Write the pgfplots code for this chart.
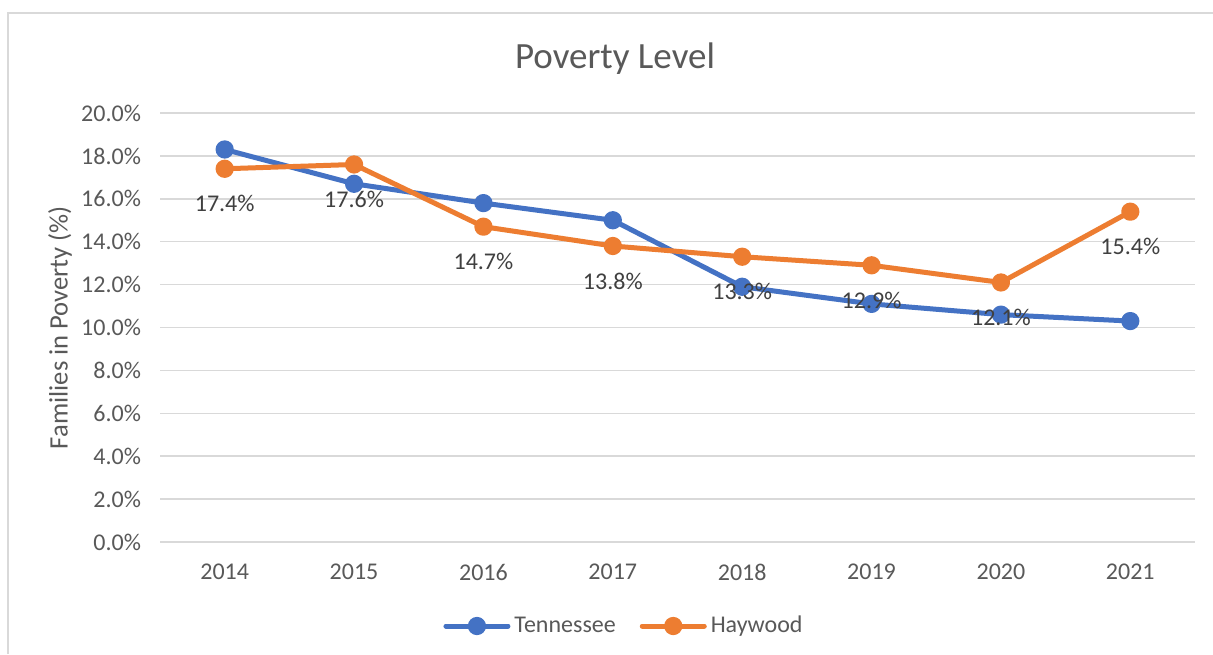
\documentclass[border=0pt]{standalone}
\usepackage{fontspec}
\setmainfont{Carlito}
\usepackage{pgfplots}
\pgfplotsset{compat=1.18}
\definecolor{tnblue}{HTML}{4472C4}
\definecolor{hworange}{HTML}{ED7D31}
\definecolor{txt}{HTML}{595959}
\definecolor{lbl}{HTML}{404040}
\definecolor{gridgray}{HTML}{D9D9D9}

\begin{document}
\begin{tikzpicture}[x=1pt,y=1pt]
\useasboundingbox (0,0) rectangle (606.5,327);
\fill[white] (0,0) rectangle (606.5,327);
\draw[gridgray, line width=0.75pt] (4,0) -- (4,320.5) -- (606.5,320.5);
\begin{axis}[
  at={(80pt,56pt)}, anchor=south west,
  scale only axis, width=517.5pt, height=214.5pt,
  xmin=-0.5, xmax=7.5, ymin=0, ymax=20,
  xtick={0,...,7},
  xticklabels={2014,2015,2016,2017,2018,2019,2020,2021},
  ytick={0,2,...,20},
  axis line style={draw=none},
  major tick length=0pt,
  xtick style={draw=none}, ytick style={draw=none},
  xmajorgrids=false, ymajorgrids=true,
  y grid style={gridgray, line width=0.75pt},
  /pgf/number format/assume math mode=true,
  tick label style={font=\fontsize{12}{14}\selectfont, text=txt},
  yticklabel={\pgfmathprintnumber[fixed,fixed zerofill,precision=1]{\tick}\%},
  yticklabel style={xshift=-6pt},
  xticklabel style={yshift=-7.5pt},
  title={Poverty Level},
  title style={at={(axis description cs:0.4396,1.098)}, anchor=center,
    font=\fontsize{18.5}{22}\selectfont, text=txt},
  ylabel={Families in Poverty (\%)},
  ylabel style={at={(axis description cs:-0.0966,0.5)}, anchor=center,
    font=\fontsize{13.3}{16}\selectfont, text=txt},
  clip=false,
  legend columns=2,
  legend style={at={(axis description cs:0.4493,-0.1958)}, anchor=center,
    draw=none, fill=none, font=\fontsize{12}{14}\selectfont, text=txt,
    /tikz/every even column/.append style={column sep=10pt}},
  legend image code/.code={
    \draw[mark repeat=2,mark phase=2] plot coordinates {(0pt,0pt) (15.5pt,0pt) (31pt,0pt)};},
  every axis plot/.append style={line width=2.5pt, line cap=round, line join=round,
    mark=*, mark size=3.3pt},
  ]
\addplot[tnblue, mark options={fill=tnblue, draw=tnblue}] coordinates {
  (0,18.3) (1,16.7) (2,15.8) (3,15.0) (4,11.9) (5,11.1) (6,10.6) (7,10.3)};
\addlegendentry{Tennessee}
\addplot[hworange, mark options={fill=hworange, draw=hworange},
  point meta=y,
  nodes near coords={\pgfmathprintnumber[fixed,fixed zerofill,precision=1]{\pgfplotspointmeta}\%},
  every node near coord/.append style={anchor=center, yshift=-17.5pt,
    font=\fontsize{12}{14}\selectfont, text=lbl}] coordinates {
  (0,17.4) (1,17.6) (2,14.7) (3,13.8) (4,13.3) (5,12.9) (6,12.1) (7,15.4)};
\addlegendentry{Haywood}
\end{axis}
\end{tikzpicture}
\end{document}
